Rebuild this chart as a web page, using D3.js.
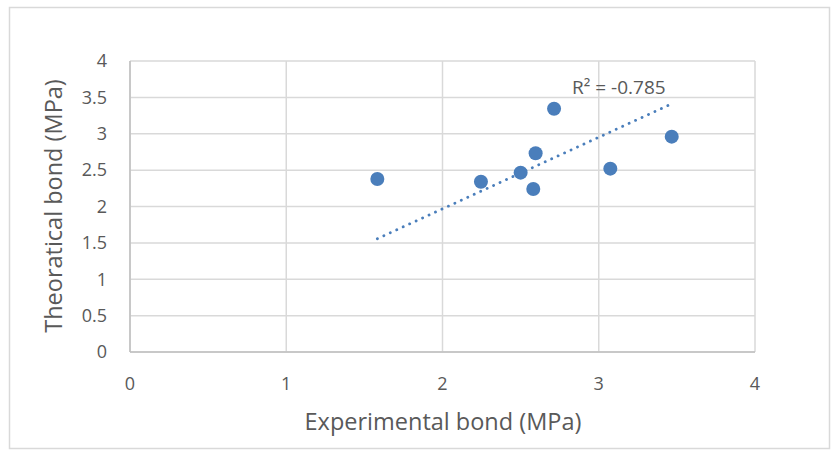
<!DOCTYPE html>
<html>
<head>
<meta charset="utf-8">
<script src="https://cdn.jsdelivr.net/npm/d3@7"></script>
<style>
  body { margin: 0; background: #fff; }
  svg { display: block; font-family: "Open Sans", "Noto Sans", sans-serif; }
</style>
</head>
<body>
<svg id="chart"></svg>
<script>
// measured values
const experimental = [1.583, 2.246, 2.50, 2.596, 2.581, 2.714, 3.074, 3.467];
const theoretical = [2.378, 2.341, 2.465, 2.731, 2.24, 3.344, 2.52, 2.96];
const xTicks = [0, 1, 2, 3, 4];
const yTicks = [0, 0.5, 1, 1.5, 2, 2.5, 3, 3.5, 4];
const r2Label = "R\u00B2 = -0.785";

const width = 837, height = 455;
const svg = d3.select('#chart').attr('width', width).attr('height', height);

// chart frame
svg.append('rect')
  .attr('x', 9.5).attr('y', 7.5)
  .attr('width', 820).attr('height', 441)
  .attr('fill', '#fff')
  .attr('stroke', '#d9d9d9')
  .attr('stroke-width', 1.5);

const plot = { left: 130, right: 755, top: 61, bottom: 352 };

const x = d3.scaleLinear().domain([0, 4]).range([plot.left, plot.right]);
const y = d3.scaleLinear().domain([0, 4]).range([plot.bottom, plot.top]);

// gridlines
svg.append('g')
  .selectAll('line')
  .data(yTicks)
  .enter()
  .append('line')
  .attr('x1', plot.left).attr('x2', plot.right)
  .attr('y1', d => y(d)).attr('y2', d => y(d))
  .attr('stroke', '#d9d9d9')
  .attr('stroke-width', 1.5);

svg.append('g')
  .selectAll('line')
  .data(xTicks)
  .enter()
  .append('line')
  .attr('y1', plot.top).attr('y2', plot.bottom)
  .attr('x1', d => x(d)).attr('x2', d => x(d))
  .attr('stroke', '#d9d9d9')
  .attr('stroke-width', 1.5);

// axis lines
svg.append('line')
  .attr('x1', plot.left).attr('x2', plot.left)
  .attr('y1', plot.top).attr('y2', plot.bottom)
  .attr('stroke', '#bfbfbf').attr('stroke-width', 1.5);
svg.append('line')
  .attr('x1', plot.left).attr('x2', plot.right)
  .attr('y1', plot.bottom).attr('y2', plot.bottom)
  .attr('stroke', '#bfbfbf').attr('stroke-width', 1.5);

// tick labels
svg.append('g')
  .selectAll('text')
  .data(yTicks)
  .enter()
  .append('text')
  .attr('x', 107)
  .attr('y', d => y(d))
  .attr('dy', '0.35em')
  .attr('text-anchor', 'end')
  .attr('fill', '#595959')
  .style('font-size', '18px')
  .text(d => d);

svg.append('g')
  .selectAll('text')
  .data(xTicks)
  .enter()
  .append('text')
  .attr('x', d => x(d))
  .attr('y', 390)
  .attr('text-anchor', 'middle')
  .attr('fill', '#595959')
  .style('font-size', '18px')
  .text(d => d);

// axis titles
svg.append('text')
  .attr('x', 443).attr('y', 430)
  .attr('text-anchor', 'middle')
  .attr('fill', '#595959')
  .style('font-size', '23.5px')
  .text('Experimental bond (MPa)');

svg.append('text')
  .attr('transform', 'translate(62,206) rotate(-90)')
  .attr('text-anchor', 'middle')
  .attr('fill', '#595959')
  .style('font-size', '23.5px')
  .text('Theoratical bond (MPa)');

// linear trendline through the origin
const pts = experimental.map((v, i) => [v, theoretical[i]]);
const slope = d3.sum(pts, p => p[0] * p[1]) / d3.sum(pts, p => p[0] * p[0]);
const xMin = d3.min(experimental), xMax = d3.max(experimental);
svg.append('line')
  .attr('x1', x(xMin)).attr('y1', y(slope * xMin))
  .attr('x2', x(xMax)).attr('y2', y(slope * xMax))
  .attr('stroke', '#4a7ebb')
  .attr('stroke-width', 2.8)
  .attr('stroke-linecap', 'round')
  .attr('stroke-dasharray', '0.1,7');

// points
svg.append('g')
  .selectAll('circle')
  .data(pts)
  .enter()
  .append('circle')
  .attr('cx', d => x(d[0]))
  .attr('cy', d => y(d[1]))
  .attr('r', 7)
  .attr('fill', '#4a7ebb');

// R² label
svg.append('text')
  .attr('x', 572).attr('y', 94)
  .attr('fill', '#595959')
  .style('font-size', '19px')
  .text(r2Label);
</script>
</body>
</html>
